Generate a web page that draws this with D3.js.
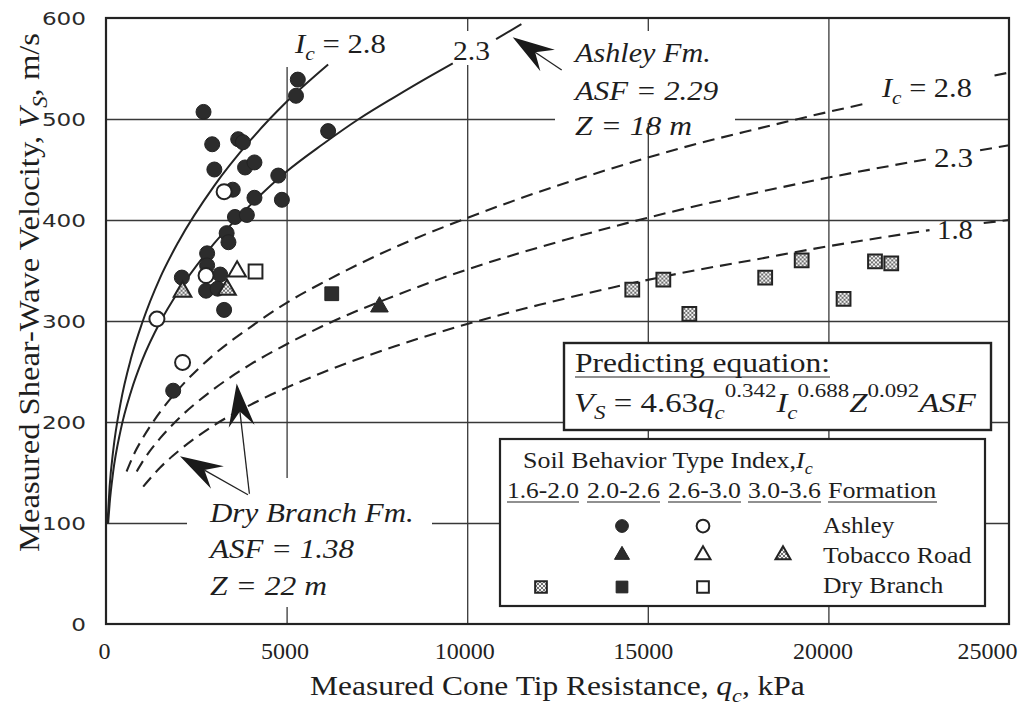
<!DOCTYPE html>
<html>
<head>
<meta charset="utf-8">
<script src="https://cdn.jsdelivr.net/npm/d3@7"></script>
<style>
  html, body { margin: 0; padding: 0; background: #ffffff; }
  svg { display: block; }
  text { fill: #1e1e1e; }
</style>
</head>
<body>
<svg id="chart" width="1032" height="708" font-family="Liberation Serif, Times New Roman, serif"></svg>
<script>
// ------------------------------------------------------------------ data
const xTicks = [0, 5000, 10000, 15000, 20000, 25000];
const yTicks = [0, 100, 200, 300, 400, 500, 600];
const xGrid = [5000, 10000, 15000, 20000];
const yGrid = [100, 200, 300, 400, 500];

// measured points [qc (kPa), Vs (m/s)]
const ashleyFilled = [
  [5310, 539], [5260, 523], [2700, 507], [6150, 488], [2940, 475], [3660, 480], [3790, 477],
  [3000, 450], [3850, 452], [4110, 457], [4770, 444], [3510, 430], [4110, 422], [4870, 420],
  [3570, 403], [3900, 405], [3340, 387], [3390, 378], [2800, 367], [2800, 355], [2100, 343],
  [3160, 346], [2770, 330], [3090, 332], [3270, 311], [1860, 231]
];
const ashleyOpen = [[3270, 428], [2770, 345], [1410, 302], [2120, 259]];
const tobaccoFilled = [[7570, 314]];
const tobaccoOpen = [[3630, 349]];
const tobaccoHatched = [[2120, 329], [3350, 331]];
const dryFilled = [[6250, 327]];
const dryOpen = [[4140, 349]];
const dryHatched = [
  [14570, 331], [15430, 341], [16150, 307], [18250, 343],
  [19260, 360], [20420, 322], [21290, 359], [21740, 357]
];

// curves [qc, Vs]
const ashleyIc28 = [[40, 99], [100, 136], [200, 172], [400, 218], [700, 264], [1000, 298],
  [1500, 343], [2000, 378], [3000, 434], [4000, 479], [5000, 517], [6150, 554]];
const ashleyIc23a = [[60, 100], [100, 119], [200, 151], [400, 191], [700, 231], [1000, 261],
  [1500, 299], [2000, 329], [3000, 377], [4000, 415], [5000, 448], [6000, 475], [7000, 500],
  [8000, 522], [9000, 543], [9600, 555]];
const ashleyIc23b = [[10800, 579], [11500, 594]];
const dryIc28a = [[570, 151], [800, 170], [1000, 183], [1500, 210], [2000, 232], [3000, 267],
  [4000, 294], [5000, 318], [6000, 338], [8000, 373], [10000, 402], [12000, 428], [14000, 451],
  [16000, 472], [18000, 490], [20000, 507], [21000, 515]];
const dryIc28b = [[24600, 543], [25000, 546]];
const dryIc23a = [[850, 151], [1000, 160], [1500, 184], [2000, 203], [3000, 233], [4000, 257],
  [5000, 277], [6000, 295], [8000, 325], [10000, 351], [12000, 373], [14000, 393], [16000, 411],
  [18000, 427], [20000, 442], [22700, 460]];
const dryIc23b = [[24200, 469], [25000, 474]];
const dryIc18a = [[1030, 136], [1500, 155], [2000, 171], [3000, 197], [4000, 217], [5000, 234],
  [6000, 249], [8000, 275], [10000, 297], [12000, 316], [14000, 333], [16000, 348], [18000, 361],
  [20000, 374], [22800, 390]];
const dryIc18b = [[24300, 397], [25000, 400]];

// ------------------------------------------------------------------ setup
const svg = d3.select("#chart");
const INK = "#232323";
const SERIF = "Liberation Serif, Times New Roman, serif";
const x = d3.scaleLinear().domain([0, 25000]).range([106, 1009]);
const y = d3.scaleLinear().domain([0, 600]).range([624, 18]);
const plotW = x(25000) - x(0), plotH = y(0) - y(600);

const defs = svg.append("defs");
const pat = defs.append("pattern").attr("id", "hatch")
  .attr("patternUnits", "userSpaceOnUse").attr("width", 4).attr("height", 4);
pat.append("rect").attr("width", 4).attr("height", 4).attr("fill", "#f2f2f2");
pat.append("rect").attr("width", 2).attr("height", 2).attr("fill", "#707070");
pat.append("rect").attr("x", 2).attr("y", 2).attr("width", 2).attr("height", 2).attr("fill", "#707070");

// ------------------------------------------------------------------ helpers
function rich(t, parts, f) {
  let cur = 0;
  parts.forEach(p => {
    const target = p.sub ? 0.26 * f : (p.sup ? -0.52 * f : 0);
    const ts = t.append("tspan").text(p.t).attr("dy", target - cur);
    cur = target;
    if (p.i) ts.attr("font-style", "italic");
    if (p.sub || p.sup) ts.attr("font-size", (0.7 * f) + "px");
  });
}
function label(parent, x0, y0, parts, f, w) {
  const t = parent.append("text").attr("x", 0).attr("y", 0)
    .style("font-family", SERIF).attr("font-size", f);
  if (typeof parts === "string") rich(t, [{t: parts}], f); else rich(t, parts, f);
  const bw = t.node().getBBox().width;
  const s = w ? w / bw : 1;
  t.attr("transform", `translate(${x0},${y0}) scale(${s},1)`);
  return t;
}
function marker(g, type, cx, cy, k) {
  k = k || 1;
  if (type === "fc" || type === "oc") {
    g.append("circle").attr("cx", cx).attr("cy", cy).attr("r", 7.5 * k)
      .attr("fill", type === "fc" ? "#2c2c2c" : "#ffffff")
      .attr("stroke", INK).attr("stroke-width", type === "fc" ? 1 : 2);
    return;
  }
  const isTri = type.endsWith("t");
  const sym = d3.symbol().type(isTri ? d3.symbolTriangle : d3.symbolSquare)
    .size(isTri ? 135 * k * k : 190 * k * k);
  const fill = type[0] === "f" ? "#2c2c2c" : (type[0] === "o" ? "#ffffff" : "url(#hatch)");
  g.append("path").attr("d", sym()).attr("transform", `translate(${cx},${cy})`)
    .attr("fill", fill).attr("stroke", INK).attr("stroke-width", type[0] === "f" ? 1 : 2);
}

// ------------------------------------------------------------------ grid
const gridX = svg.append("g").attr("transform", `translate(0,${y(0)})`)
  .call(d3.axisBottom(x).tickValues(xGrid).tickSize(-plotH).tickFormat(""));
gridX.select(".domain").remove();
gridX.selectAll("line").attr("stroke", "#383838").attr("stroke-width", 1.3);
const gridY = svg.append("g").attr("transform", `translate(${x(0)},0)`)
  .call(d3.axisLeft(y).tickValues(yGrid).tickSize(-plotW).tickFormat(""));
gridY.select(".domain").remove();
gridY.selectAll("line").attr("stroke", "#383838").attr("stroke-width", 1.3);

// white masks behind annotation texts (gridlines are broken there)
const masks = [[280, 19, 112, 48], [450, 31, 46, 34], [555, 31, 180, 92], [187, 478, 245, 129]];
svg.append("g").selectAll("rect").data(masks).join("rect")
  .attr("x", d => d[0]).attr("y", d => d[1]).attr("width", d => d[2]).attr("height", d => d[3])
  .attr("fill", "#ffffff");

// ------------------------------------------------------------------ curves
const line = d3.line().x(d => x(d[0])).y(d => y(d[1])).curve(d3.curveMonotoneX);
const curves = svg.append("g").attr("fill", "none").attr("stroke", INK).attr("stroke-width", 2);
[ashleyIc28, ashleyIc23a, ashleyIc23b].forEach(c => curves.append("path").attr("d", line(c)));
[dryIc28a, dryIc28b, dryIc23a, dryIc23b, dryIc18a, dryIc18b].forEach(c =>
  curves.append("path").attr("d", line(c)).attr("stroke-dasharray", "12,7").attr("stroke-width", 2.1));

// ------------------------------------------------------------------ points
const pts = svg.append("g");
const groups = [
  [ashleyFilled, "fc"], [dryHatched, "hs"], [dryFilled, "fs"], [dryOpen, "os"],
  [tobaccoFilled, "ft"], [tobaccoOpen, "ot"], [tobaccoHatched, "ht"], [ashleyOpen, "oc"]
];
groups.forEach(([arr, type]) => arr.forEach(d => marker(pts, type, x(d[0]), y(d[1]), 1)));

// ------------------------------------------------------------------ annotations
const ann = svg.append("g");
label(ann, 295, 53, [{t: "I", i: 1}, {t: "c", i: 1, sub: 1}, {t: " = 2.8"}], 27, 92);
label(ann, 453, 60, "2.3", 27, 37);
label(ann, 882, 97, [{t: "I", i: 1}, {t: "c", i: 1, sub: 1}, {t: " = 2.8"}], 27, 91);
label(ann, 934, 167, "2.3", 27, 39);
label(ann, 937, 239, "1.8", 27, 36);
label(ann, 575, 62, [{t: "Ashley Fm.", i: 1}], 27, 138);
label(ann, 575, 100, [{t: "ASF = 2.29", i: 1}], 27, 146);
label(ann, 575, 135, [{t: "Z = 18 m", i: 1}], 27, 117);
label(ann, 210, 522, [{t: "Dry Branch Fm.", i: 1}], 27, 205);
label(ann, 210, 558, [{t: "ASF = 1.38", i: 1}], 27, 147);
label(ann, 210, 595, [{t: "Z = 22 m", i: 1}], 27, 117);

const arrowSpecs = [
  {tail: [12616, 548.5], tip: [11260, 581], L: 42, W: 13, N: 27},
  {tail: [3970, 129], tip: [3618, 238], L: 43, W: 13, N: 28},
  {tail: [3930, 128], tip: [2049, 166], L: 43, W: 13, N: 28}
];
arrowSpecs.forEach(a => {
  const tx = x(a.tip[0]), ty = y(a.tip[1]), ax = x(a.tail[0]), ay = y(a.tail[1]);
  const len = Math.hypot(ax - tx, ay - ty), ux = (ax - tx) / len, uy = (ay - ty) / len;
  const px = -uy, py = ux;
  const p = d3.path();
  p.moveTo(tx, ty);
  p.lineTo(tx + ux * a.L + px * a.W, ty + uy * a.L + py * a.W);
  p.lineTo(tx + ux * a.N, ty + uy * a.N);
  p.lineTo(tx + ux * a.L - px * a.W, ty + uy * a.L - py * a.W);
  p.closePath();
  ann.append("line").attr("x1", tx + ux * a.N).attr("y1", ty + uy * a.N)
    .attr("x2", ax).attr("y2", ay).attr("stroke", INK).attr("stroke-width", 1.3);
  ann.append("path").attr("d", p.toString()).attr("fill", "#1a1a1a");
});

// ------------------------------------------------------------------ equation box
const eq = svg.append("g");
eq.append("rect").attr("x", 564).attr("y", 343).attr("width", 427).attr("height", 87)
  .attr("fill", "#ffffff").attr("stroke", INK).attr("stroke-width", 2.4);
label(eq, 575, 372, "Predicting equation:", 27, 255);
eq.append("line").attr("x1", 575).attr("x2", 830).attr("y1", 377).attr("y2", 377)
  .attr("stroke", INK).attr("stroke-width", 1.2);
label(eq, 574, 412, [
  {t: "V", i: 1}, {t: "S", i: 1, sub: 1}, {t: " = 4.63"}, {t: "q", i: 1}, {t: "c", i: 1, sub: 1},
  {t: "0.342", sup: 1}, {t: "I", i: 1}, {t: "c", i: 1, sub: 1}, {t: "0.688", sup: 1},
  {t: "Z", i: 1}, {t: "0.092", sup: 1}, {t: "ASF", i: 1}
], 28, 403);

// ------------------------------------------------------------------ legend
const lg = svg.append("g");
lg.append("rect").attr("x", 500).attr("y", 439).attr("width", 485).attr("height", 167)
  .attr("fill", "#ffffff").attr("stroke", INK).attr("stroke-width", 2.2);
label(lg, 523, 468, [{t: "Soil Behavior Type Index,"}, {t: "I", i: 1}, {t: "c", i: 1, sub: 1}], 23, 290);
const headers = [["1.6-2.0", 507, 72], ["2.0-2.6", 587, 73], ["2.6-3.0", 668, 73], ["3.0-3.6", 748, 73], ["Formation", 828, 109]];
headers.forEach(h => {
  label(lg, h[1], 498, h[0], 23, h[2]);
  lg.append("line").attr("x1", h[1]).attr("x2", h[1] + h[2]).attr("y1", 502).attr("y2", 502)
    .attr("stroke", INK).attr("stroke-width", 1.1);
});
const colX = [541, 622, 703, 783];
const legendRows = [
  {name: "Ashley", cy: 526, ty: 533, w: 72, marks: [null, "fc", "oc", null]},
  {name: "Tobacco Road", cy: 555, ty: 563, w: 149, marks: [null, "ft", "ot", "ht"]},
  {name: "Dry Branch", cy: 587, ty: 593, w: 121, marks: ["hs", "fs", "os", null]}
];
legendRows.forEach(r => {
  r.marks.forEach((m, i) => { if (m) marker(lg, m, colX[i], r.cy, 0.85); });
  label(lg, 823, r.ty, r.name, 23, r.w);
});

// ------------------------------------------------------------------ frame & axes
svg.append("rect").attr("x", x(0)).attr("y", y(600)).attr("width", plotW).attr("height", plotH)
  .attr("fill", "none").attr("stroke", INK).attr("stroke-width", 2.2);

const xShift = [-2, -2, -3, -5, -6, 0];
const xAxis = svg.append("g").attr("transform", `translate(0,${y(0)})`)
  .call(d3.axisBottom(x).tickValues(xTicks).tickSize(0).tickFormat(d3.format("d")));
xAxis.select(".domain").remove();
xAxis.selectAll("text").attr("y", 35).attr("dy", null)
  .attr("x", (d, i) => i === xTicks.length - 1 ? 8 : xShift[i])
  .attr("text-anchor", (d, i) => i === xTicks.length - 1 ? "end" : "middle")
  .style("font-family", SERIF).attr("font-size", 24).style("fill", "#222");

const yAxis = svg.append("g").attr("transform", `translate(${x(0)},0)`)
  .call(d3.axisLeft(y).tickValues(yTicks).tickSize(0));
yAxis.select(".domain").remove();
yAxis.selectAll("text").attr("x", 0).attr("dy", "0.36em")
  .attr("transform", "translate(-20,0) scale(1.36,1)")
  .style("font-family", "DejaVu Sans, Verdana, sans-serif").attr("font-size", 17).style("fill", "#2a2a2a");

// axis titles
const xt = label(svg, 0, 0, [{t: "Measured Cone Tip Resistance, "}, {t: "q", i: 1}, {t: "c", i: 1, sub: 1}, {t: ", kPa"}], 27, null);
{
  const bw = xt.node().getBBox().width, s = 495 / bw;
  xt.attr("transform", `translate(${557.5 - 495 / 2},695) scale(${s},1)`);
}
const yt = svg.append("text").attr("x", 0).attr("y", 0).attr("font-size", 30)
  .style("font-family", SERIF).attr("text-anchor", "middle");
rich(yt, [{t: "Measured Shear-Wave Velocity, "}, {t: "V", i: 1}, {t: "S", i: 1, sub: 1}, {t: ", m/s"}], 30);
{
  const bw = yt.node().getBBox().width, s = 519 / bw;
  yt.attr("transform", `translate(39,292.5) rotate(-90) scale(${s},1)`);
}
</script>
</body>
</html>
